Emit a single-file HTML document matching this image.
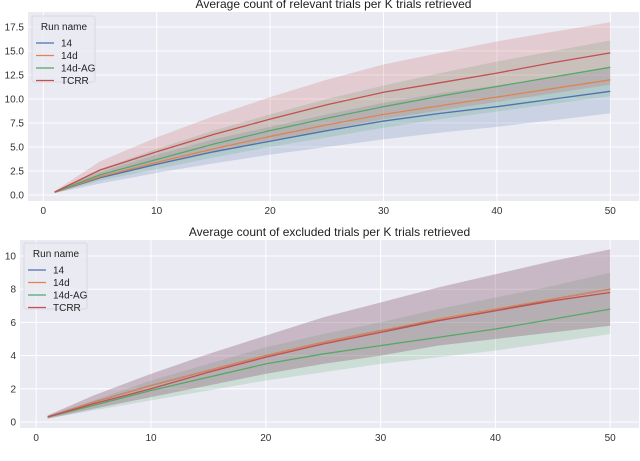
<!DOCTYPE html>
<html><head><meta charset="utf-8"><style>
body{margin:0;background:#fff;}
svg{display:block;font-family:"Liberation Sans",sans-serif;}
</style></head><body>
<svg id="chart" width="640" height="461" viewBox="0 0 640 461"></svg>
<script>
const xs = [1,5,10,15,20,25,30,35,40,45,50];
const names = ["14","14d","14d-AG","TCRR"];
const colors = ["#4c72b0","#dd8452","#55a868","#c44e52"];
// top panel: relevant trials
const relMean14 = [0.3,1.8,3.2,4.5,5.6,6.7,7.7,8.5,9.2,10.0,10.8];
const relMean14d = [0.3,1.9,3.4,4.8,6.1,7.3,8.4,9.3,10.2,11.1,12.0];
const relMeanAG = [0.3,2.1,3.7,5.3,6.7,8.0,9.2,10.3,11.3,12.3,13.3];
const relMeanTCRR = [0.3,2.6,4.5,6.3,7.9,9.4,10.7,11.7,12.7,13.8,14.8];
const relLo14 = [0.2,1.2,2.3,3.3,4.2,5.0,5.8,6.5,7.1,7.8,8.5];
const relHi14 = [0.4,2.4,4.2,5.8,7.1,8.4,9.6,10.6,11.4,12.3,13.2];
const relLoTCRR = [0.2,1.7,3.1,4.4,5.6,6.8,7.9,8.8,9.7,10.6,11.5];
const relHiTCRR = [0.4,3.5,6.0,8.2,10.2,12.0,13.6,14.8,16.0,17.0,18.0];
const relLoAG = [0.2,1.5,2.7,3.9,5.0,6.0,7.0,7.9,8.7,9.5,10.3];
const relHiAG = [0.4,2.7,4.8,6.7,8.4,10.0,11.4,12.7,13.9,15.0,16.1];
// bottom panel: excluded trials
const excMean14 = [0.3,1.2,2.2,3.1,4.0,4.8,5.5,6.1,6.7,7.4,8.0];
const excMean14d = [0.3,1.2,2.2,3.1,4.0,4.8,5.5,6.2,6.8,7.4,8.0];
const excMeanAG = [0.3,1.0,1.9,2.7,3.5,4.1,4.6,5.1,5.6,6.2,6.8];
const excMeanTCRR = [0.3,1.1,2.0,3.0,3.9,4.7,5.4,6.1,6.7,7.3,7.8];
const excLo = [0.2,0.8,1.5,2.2,2.9,3.5,4.0,4.6,5.0,5.4,5.8];
const excHi = [0.4,1.6,2.9,4.1,5.2,6.3,7.2,8.1,8.9,9.7,10.4];
const excLoAG = [0.2,0.7,1.3,1.9,2.5,3.0,3.5,3.9,4.3,4.8,5.3];
const excHiAG = [0.4,1.3,2.5,3.5,4.5,5.3,6.0,6.8,7.5,8.2,9.0];
const topYTicks = [0,2.5,5,7.5,10,12.5,15,17.5];
const topYLabels = ["0.0","2.5","5.0","7.5","10.0","12.5","15.0","17.5"];
const botYTicks = [0,2,4,6,8,10];
const xTicks = [0,10,20,30,40,50];

const svg = document.getElementById('chart');
const NS = 'http://www.w3.org/2000/svg';
function mk(tag, attrs, parent){const e=document.createElementNS(NS,tag);for(const k in attrs)e.setAttribute(k,attrs[k]);(parent||svg).appendChild(e);return e;}

function panel(p){
  const g = mk('g',{});
  
  
  const sx = v => p.x0 + v*p.kx;
  const sy = v => p.y0 - v*p.ky;
  const bg = mk('rect',{x:p.L,y:p.T,width:p.R-p.L,height:p.B-p.T,fill:'#eaeaf2'},g);
  
  
  p.yt.forEach((t,i)=>{
    mk('line',{x1:p.L,x2:p.R,y1:sy(t),y2:sy(t),stroke:'#fff','stroke-width':1},g);
    const tx = mk('text',{x:p.L-4,y:sy(t)+3.5,'text-anchor':'end','font-size':10,fill:'#333'},g);
    tx.textContent = p.yl[i];
    
    
  });
  xTicks.forEach(t=>{
    mk('line',{x1:sx(t),x2:sx(t),y1:p.T,y2:p.B,stroke:'#fff','stroke-width':1},g);
    const tx = mk('text',{x:sx(t),y:p.B+13,'text-anchor':'middle','font-size':10,fill:'#333'},g);
    tx.textContent = t;
    
    
  });
  p.bands.forEach((b,i)=>{
    let d = xs.map((x,j)=>(j?'L':'M')+sx(x)+','+sy(b.hi[j])).join('');
    for(let j=xs.length-1;j>=0;j--) d += 'L'+sx(xs[j])+','+sy(b.lo[j]);
    const band = mk('path',{d:d+'Z',fill:b.c,'fill-opacity':0.2,stroke:'none'},g);
    
    
  });
  p.series.forEach((s,i)=>{
    const pts = xs.map((x,j)=>sx(x)+','+sy(s[j])).join(' ');
    const ln = mk('polyline',{points:pts,fill:'none',stroke:colors[i],'stroke-width':1.3},g);
    
    
  });
  const tt = mk('text',{x:(p.L+p.R)/2,y:p.T-4,'text-anchor':'middle','font-size':12,fill:'#222'},g);
  tt.textContent = p.title;
  
  
  const lg = mk('g',{},g);
  
  
  mk('rect',{x:p.lx,y:p.ly,width:63,height:66,fill:'#eaeaf2','fill-opacity':0.8,stroke:'#d8d8e0',rx:2},lg);
  const lt = mk('text',{x:p.lx+32,y:p.ly+14,'text-anchor':'middle','font-size':10,fill:'#222'},lg);
  lt.textContent='Run name';
  names.forEach((n,i)=>{
    const yy = p.ly+27+i*12.5;
    mk('line',{x1:p.lx+4,x2:p.lx+22,y1:yy,y2:yy,stroke:colors[i],'stroke-width':1.3},lg);
    const e = mk('text',{x:p.lx+29,y:yy+3.5,'font-size':10,fill:'#222'},lg);
    e.textContent=n;
    
    
  });
}
panel({id:'relevant-panel',L:28,R:639,T:12,B:201,x0:43.3,kx:11.34,y0:195,ky:9.6,
  yt:topYTicks,yl:topYLabels,title:'Average count of relevant trials per K trials retrieved',
  lx:32,ly:16,
  series:[relMean14,relMean14d,relMeanAG,relMeanTCRR],
  bands:[{lo:relLo14,hi:relHi14,c:colors[0]},{lo:relLoAG,hi:relHiAG,c:colors[2]},{lo:relLoTCRR,hi:relHiTCRR,c:colors[3]}]});
panel({id:'excluded-panel',L:20,R:639,T:240,B:428,x0:36.2,kx:11.48,y0:422,ky:16.6,
  yt:botYTicks,yl:botYTicks.map(String),title:'Average count of excluded trials per K trials retrieved',
  lx:24,ly:243,
  series:[excMean14,excMean14d,excMeanAG,excMeanTCRR],
  bands:[{lo:excLoAG,hi:excHiAG,c:colors[2]},{lo:excLo,hi:excHi,c:colors[0]},{lo:excLo,hi:excHi,c:colors[3]}]});
</script>
</body></html>
